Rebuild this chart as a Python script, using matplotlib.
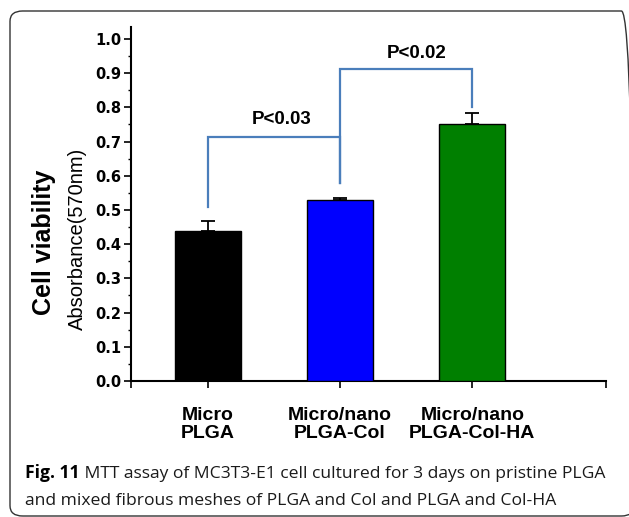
import matplotlib
matplotlib.use("Agg")
import matplotlib.pyplot as plt
from matplotlib.patches import FancyBboxPatch
from matplotlib.ticker import MultipleLocator, FixedLocator

categories = ["Micro\nPLGA", "Micro/nano\nPLGA-Col", "Micro/nano\nPLGA-Col-HA"]
values = [0.44, 0.53, 0.75]
errors = [0.028, 0.006, 0.035]
colors = ["#000000", "#0000ff", "#007f00"]
yticks = [0.0, 0.1, 0.2, 0.3, 0.4, 0.5, 0.6, 0.7, 0.8, 0.9, 1.0]
# significance brackets: (x_left, x_right, y_top, left_tip, right_tip, label)
brackets = [
    (0, 1, 0.713, 0.509, 0.579, "P<0.03"),
    (1, 2, 0.912, 0.579, 0.801, "P<0.02"),
]
caption_bold = "Fig. 11"
caption_rest = " MTT assay of MC3T3-E1 cell cultured for 3 days on pristine PLGA"
caption_line2 = "and mixed fibrous meshes of PLGA and Col and PLGA and Col-HA"

W, H = 629, 517
fig = plt.figure(figsize=(W / 100, H / 100), dpi=100)

# rounded frame
frame = FancyBboxPatch((10 / W, 1 - 516 / H), (634 - 10) / W, (516 - 11) / H,
                       boxstyle="round,pad=0,rounding_size=0.02",
                       transform=fig.transFigure, fill=False,
                       edgecolor="#333333", linewidth=1.0, clip_on=False)
fig.patches.append(frame)

ax = fig.add_axes([131 / W, 1 - 381 / H, (606 - 131) / W, (381 - 27) / H])
x = list(range(len(categories)))
ax.errorbar(x, values, yerr=[[0] * len(values), errors], fmt="none",
            ecolor="black", elinewidth=1.3, capsize=5, capthick=1.3, zorder=2)
ax.bar(x, values, width=0.5, color=colors, edgecolor="black", linewidth=1.0, zorder=3)

ax.set_xlim(-0.58, 3.01)
ax.set_ylim(0, 1.035)
ax.set_yticks(yticks)
ax.set_yticklabels([f"{t:.1f}" for t in yticks], fontfamily="DejaVu Sans",
                   fontweight="bold", fontsize=10.5)
ax.yaxis.set_minor_locator(MultipleLocator(0.05))
ax.set_xticks(x)
ax.set_xticklabels(categories, fontfamily="Liberation Sans", fontweight="bold",
                   fontsize=14, linespacing=1.05)
ax.xaxis.set_minor_locator(FixedLocator([-0.58, 3.01]))
ax.tick_params(axis="y", which="major", direction="out", length=5, width=1.2, pad=2)
ax.tick_params(axis="y", which="minor", direction="out", length=2.5, width=1.0)
ax.tick_params(axis="x", which="major", direction="out", length=5, width=1.2, pad=14)
ax.tick_params(axis="x", which="minor", direction="out", length=5, width=1.2)
for s in ["top", "right"]:
    ax.spines[s].set_visible(False)
for s in ["left", "bottom"]:
    ax.spines[s].set_linewidth(1.5)

bc = "#4a7ebb"
for (xl, xr, yt, tl, tr, lab) in brackets:
    ax.plot([xl, xl, xr, xr], [tl, yt, yt, tr], color=bc, linewidth=1.6,
            solid_joinstyle="miter", zorder=4, clip_on=False)
ax.text(0.56, 0.766, brackets[0][5], ha="center", va="center",
        fontfamily="Liberation Sans", fontweight="bold", fontsize=13.5)
ax.text(1.58, 0.958, brackets[1][5], ha="center", va="center",
        fontfamily="Liberation Sans", fontweight="bold", fontsize=13.5)

fig.text(44 / W, 1 - 242 / H, "Cell viability", rotation=90, ha="center", va="center",
         fontfamily="Liberation Sans", fontweight="bold", fontsize=18)
fig.text(77 / W, 1 - 239 / H, "Absorbance(570nm)", rotation=90, ha="center", va="center",
         fontfamily="Liberation Sans", fontsize=14.5)

cap_fs = 12.6
t1 = fig.text(25 / W, 1 - 478 / H, caption_bold, ha="left", va="baseline",
              fontfamily="Open Sans", fontweight="bold", fontsize=cap_fs)
fig.canvas.draw()
bb = t1.get_window_extent()
fig.text(bb.x1 / W, 1 - 478 / H, caption_rest, ha="left", va="baseline",
         fontfamily="Open Sans", fontsize=cap_fs, color="#1a1a1a")
fig.text(25 / W, 1 - 505 / H, caption_line2, ha="left", va="baseline",
         fontfamily="Open Sans", fontsize=cap_fs, color="#1a1a1a")

fig.savefig("out.png", dpi=100)
